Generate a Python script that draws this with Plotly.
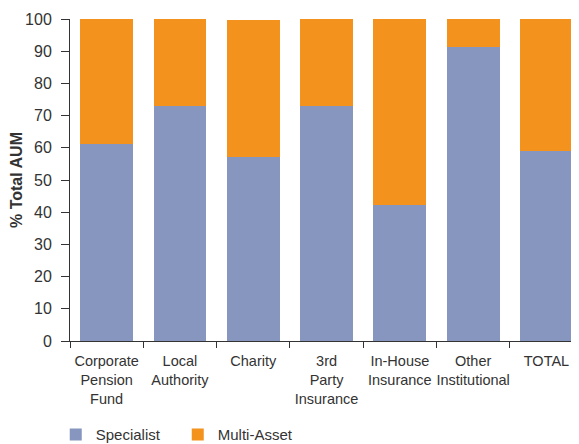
import plotly.graph_objects as go

categories = ["Corporate<br>Pension<br>Fund", "Local<br>Authority", "Charity", "3rd<br>Party<br>Insurance",
              "In-House<br>Insurance", "Other<br>Institutional", "TOTAL"]
specialist = [61.2, 73.0, 57.1, 73.0, 42.2, 91.3, 59.0]
multi_asset = [38.8, 27.0, 42.6, 27.0, 57.8, 8.7, 41.0]

fig = go.Figure()
fig.add_trace(go.Bar(x=categories, y=specialist, name="Specialist", marker_color="#8696BE", marker_line_width=0))
fig.add_trace(go.Bar(x=categories, y=multi_asset, name="Multi-Asset", marker_color="#F4921E", marker_line_width=0))

fig.update_layout(
    barmode="stack",
    bargap=0.28,
    width=571, height=436,
    margin=dict(l=62, r=0, t=11, b=103, autoexpand=False),
    plot_bgcolor="white", paper_bgcolor="white",
    font=dict(family="Liberation Sans, Arial, sans-serif", size=14.5, color="#333333"),
    legend=dict(orientation="h", x=-0.028, xanchor="left", y=-0.24, yanchor="top",
                font=dict(size=15, color="#333333"), traceorder="normal", itemwidth=30,
                entrywidth=77, entrywidthmode="pixels"),
    showlegend=True,
)
fig.update_xaxes(
    range=[-0.5, 6.444], showline=True, linecolor="#333333", linewidth=1,
    ticks="outside", tickson="boundaries", ticklen=6, tickcolor="#333333",
    tickangle=0, automargin=False, ticklabelstandoff=7,
    tickfont=dict(size=14.5, color="#333333"), showgrid=False,
)
fig.update_yaxes(
    range=[0, 100], dtick=10, showline=True, linecolor="#333333", linewidth=1,
    ticks="outside", ticklen=8, tickcolor="#333333", showgrid=False, automargin=False,
    ticklabelstandoff=6,
    tickfont=dict(size=16, color="#333333"),
    title=dict(text="<b>% Total AUM</b>", font=dict(size=16, color="#333333"), standoff=0),
)
fig.write_html("out.html")
